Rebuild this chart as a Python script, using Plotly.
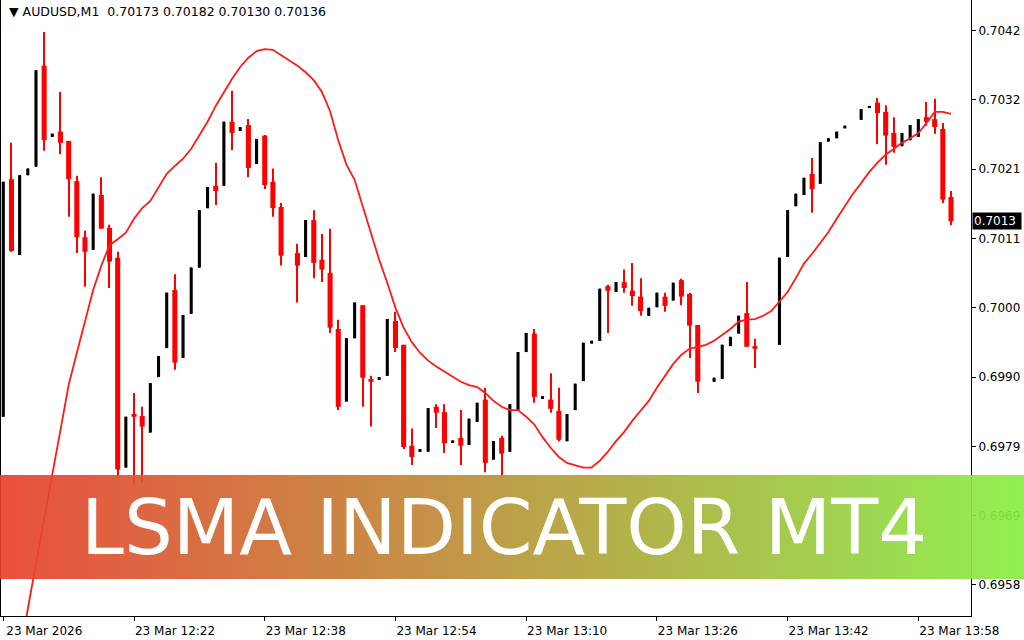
import plotly.graph_objects as go

# ---------------- data ----------------
symbol = "AUDUSD,M1"
x_tick_idx = [0, 16, 32, 48, 64, 80, 96, 112]
x_tick_text = ["23 Mar 2026", "23 Mar 12:22", "23 Mar 12:38", "23 Mar 12:54",
               "23 Mar 13:10", "23 Mar 13:26", "23 Mar 13:42", "23 Mar 13:58"]
y_tick_vals = [0.69585, 0.69690, 0.69795, 0.69900, 0.70005,
               0.70110, 0.70215, 0.70320, 0.70425]
y_tick_text = ["0.6958", "0.6969", "0.6979", "0.6990", "0.7000",
               "0.7011", "0.7021", "0.7032", "0.7042"]

opens = [0.69840, 0.70200, 0.70085, 0.70206, 0.70219, 0.70372, 0.70264, 0.70272, 0.70258, 0.70197,
         0.70112, 0.70093, 0.70176, 0.70126, 0.70081, 0.69763, 0.69843, 0.69841, 0.69816, 0.69900,
         0.69944, 0.70032, 0.69929, 0.69996, 0.70066, 0.70156, 0.70190, 0.70190, 0.70287, 0.70273,
         0.70282, 0.70223, 0.70266, 0.70196, 0.70158, None, 0.70088, 0.70082, 0.70138, 0.70078,
         0.70058, 0.69973, 0.69863, 0.69959, 0.70009, 0.69897, 0.69897, 0.69902, 0.69985, 0.69949,
         0.69796, 0.69788, 0.69787, 0.69855, 0.69847, 0.69801, 0.69808, 0.69797, 0.69832, 0.69866,
         0.69775, 0.69808, 0.69787, 0.69850, 0.69938, 0.69966, 0.69868, 0.69866, 0.69849, 0.69803,
         0.69850, 0.69894, 0.69951, 0.69955, 0.70038, 0.70029, 0.70044, 0.70031, 0.70022, 0.69993,
         0.70006, 0.70022, 0.70016, 0.70047, 0.70026, 0.69979, None, 0.69893, 0.69897, 0.69947,
         0.69966, 0.69997, 0.69947, None, None, 0.69949, 0.70082, 0.70159, 0.70176, 0.70208,
         0.70193, 0.70257, 0.70262, 0.70277, None, 0.70290, 0.70308, 0.70316, 0.70302, 0.70270,
         0.70250, 0.70259, 0.70264, 0.70294, 0.70291, 0.70276, 0.70173]

highs = [0.70196, 0.70255, 0.70206, 0.70216, 0.70365, 0.70423, 0.70269, 0.70332, 0.70258, 0.70205,
         0.70122, 0.70178, 0.70203, 0.70131, 0.70090, 0.69840, 0.69876, 0.69855, 0.69891, 0.69932,
         0.70028, 0.70056, 0.69994, 0.70066, 0.70153, 0.70188, 0.70225, 0.70287, 0.70334, 0.70279,
         0.70291, 0.70261, 0.70267, 0.70216, 0.70164, None, 0.70102, 0.70138, 0.70153, 0.70117,
         0.70125, 0.69987, 0.69959, 0.70013, 0.70009, 0.69902, 0.69900, 0.69988, 0.69999, 0.69949,
         0.69822, 0.69791, 0.69853, 0.69859, 0.69859, 0.69804, 0.69850, 0.69837, 0.69861, 0.69884,
         0.69803, 0.69811, 0.69859, 0.69938, 0.69967, 0.69973, 0.69871, 0.69906, 0.69884, 0.69844,
         0.69890, 0.69952, 0.69955, 0.70034, 0.70040, 0.70044, 0.70063, 0.70073, 0.70050, 0.70005,
         0.70028, 0.70028, 0.70043, 0.70049, 0.70028, 0.69979, None, 0.69899, 0.69949, 0.69961,
         0.69993, 0.70044, 0.69958, None, None, 0.70081, 0.70153, 0.70178, 0.70202, 0.70232,
         0.70256, 0.70262, 0.70272, 0.70281, None, 0.70306, 0.70311, 0.70323, 0.70312, 0.70294,
         0.70270, 0.70282, 0.70291, 0.70317, 0.70322, 0.70285, 0.70182]

lows = [0.69840, 0.70090, 0.70085, 0.70206, 0.70219, 0.70243, 0.70264, 0.70238, 0.70143, 0.70088,
        0.70037, 0.70093, 0.70125, 0.70035, 0.69747, 0.69763, 0.69737, 0.69741, 0.69816, 0.69900,
        0.69944, 0.69911, 0.69929, 0.69996, 0.70066, 0.70156, 0.70161, 0.70190, 0.70244, 0.70273,
        0.70203, 0.70223, 0.70185, 0.70143, 0.70069, None, 0.70013, 0.70082, 0.70050, 0.70044,
        0.69967, 0.69850, 0.69863, 0.69959, 0.69855, 0.69825, 0.69897, 0.69902, 0.69938, 0.69791,
        0.69767, 0.69788, 0.69787, 0.69823, 0.69785, 0.69801, 0.69767, 0.69797, 0.69832, 0.69756,
        0.69775, 0.69747, 0.69787, 0.69850, 0.69938, 0.69861, 0.69868, 0.69846, 0.69803, 0.69803,
        0.69850, 0.69894, 0.69951, 0.69955, 0.69967, 0.70029, 0.70028, 0.70008, 0.69993, 0.69993,
        0.70006, 0.69999, 0.70016, 0.70009, 0.69929, 0.69876, None, 0.69893, 0.69897, 0.69947,
        0.69966, 0.69946, 0.69914, None, None, 0.69949, 0.70082, 0.70159, 0.70176, 0.70149,
        0.70193, 0.70257, 0.70262, 0.70277, None, 0.70290, 0.70308, 0.70253, 0.70222, 0.70240,
        0.70250, 0.70259, 0.70264, 0.70281, 0.70269, 0.70164, 0.70130]

closes = [0.70196, 0.70091, 0.70206, 0.70216, 0.70365, 0.70259, 0.70269, 0.70255, 0.70200, 0.70112,
          0.70090, 0.70178, 0.70125, 0.70075, 0.69760, 0.69840, 0.69840, 0.69825, 0.69891, 0.69932,
          0.70028, 0.69922, 0.69994, 0.70066, 0.70153, 0.70188, 0.70182, 0.70287, 0.70270, 0.70279,
          0.70217, 0.70261, 0.70191, 0.70156, 0.70084, None, 0.70069, 0.70138, 0.70073, 0.70063,
          0.69975, 0.69855, 0.69959, 0.70013, 0.69899, 0.69893, 0.69900, 0.69988, 0.69944, 0.69794,
          0.69779, 0.69791, 0.69853, 0.69846, 0.69800, 0.69804, 0.69796, 0.69837, 0.69861, 0.69770,
          0.69803, 0.69784, 0.69859, 0.69938, 0.69967, 0.69870, 0.69871, 0.69852, 0.69805, 0.69844,
          0.69890, 0.69952, 0.69955, 0.70034, 0.70031, 0.70044, 0.70035, 0.70023, 0.70000, 0.70005,
          0.70028, 0.70008, 0.70043, 0.70022, 0.69978, 0.69893, None, 0.69899, 0.69949, 0.69961,
          0.69993, 0.69946, 0.69943, None, None, 0.70081, 0.70153, 0.70178, 0.70202, 0.70185,
          0.70256, 0.70262, 0.70272, 0.70281, None, 0.70306, 0.70311, 0.70300, 0.70266, 0.70249,
          0.70270, 0.70282, 0.70291, 0.70287, 0.70279, 0.70169, 0.70136]

lsma_start = 2
lsma = [0.69470, 0.69549, 0.69617, 0.69687, 0.69753, 0.69820, 0.69888, 0.69937, 0.69985, 0.70032,
        0.70069, 0.70100, 0.70109, 0.70119, 0.70140, 0.70156, 0.70167, 0.70187, 0.70208, 0.70220,
        0.70231, 0.70246, 0.70267, 0.70287, 0.70311, 0.70332, 0.70352, 0.70370, 0.70384, 0.70394,
        0.70397, 0.70396, 0.70388, 0.70379, 0.70372, 0.70362, 0.70350, 0.70332, 0.70303, 0.70259,
        0.70222, 0.70199, 0.70158, 0.70120, 0.70078, 0.70043, 0.70005, 0.69975, 0.69953, 0.69937,
        0.69925, 0.69916, 0.69908, 0.69900, 0.69893, 0.69888, 0.69885, 0.69876, 0.69864, 0.69855,
        0.69850, 0.69850, 0.69840, 0.69828, 0.69809, 0.69793, 0.69779, 0.69770, 0.69766, 0.69763,
        0.69763, 0.69773, 0.69787, 0.69803, 0.69817, 0.69834, 0.69849, 0.69864, 0.69884, 0.69903,
        0.69920, 0.69934, 0.69943, 0.69946, 0.69949, 0.69955, 0.69964, 0.69973, 0.69984, 0.69987,
        0.69988, 0.69993, 0.70000, 0.70014, 0.70029, 0.70050, 0.70072, 0.70087, 0.70103, 0.70120,
        0.70140, 0.70159, 0.70178, 0.70194, 0.70211, 0.70225, 0.70237, 0.70246, 0.70255, 0.70262,
        0.70270, 0.70285, 0.70302, 0.70302, 0.70299]

banner_text = "LSMA INDICATOR MT4"

# ---------------- figure ----------------
RED = "#ff0000"
BLACK = "#000000"
n = len(opens)
valid = [i for i in range(n) if opens[i] is not None]
bull = [i for i in valid if closes[i] > opens[i]]
bear = [i for i in valid if closes[i] <= opens[i]]


def bar_trace(ids, lo, hi, width, colour):
    return go.Bar(
        x=ids,
        base=[lo[i] for i in ids],
        y=[hi[i] - lo[i] for i in ids],
        width=width,
        marker=dict(color=colour, line=dict(width=0)),
        hoverinfo="skip",
    )


fig = go.Figure()
fig.add_trace(bar_trace(bear, lows, highs, 0.13, RED))
fig.add_trace(bar_trace(bear, opens, closes, 0.62, RED))
fig.add_trace(bar_trace(bull, lows, highs, 0.13, BLACK))
fig.add_trace(bar_trace(bull, opens, closes, 0.38, BLACK))
fig.add_trace(go.Scatter(
    x=list(range(lsma_start, lsma_start + len(lsma))), y=lsma,
    mode="lines", line=dict(color="#ff1a1a", width=1.8), hoverinfo="skip",
))

W, H = 1024, 640
px_per_bar = 8.17
x0_px = 3.3
plot_left, plot_right, plot_bottom = 1, 971, 616

font_axis = dict(family="DejaVu Sans", size=12, color="black")

fig.update_layout(
    width=W, height=H, autosize=False,
    margin=dict(l=0, r=0, t=0, b=0, pad=0, autoexpand=False),
    paper_bgcolor="white", plot_bgcolor="white",
    showlegend=False, barmode="overlay",
    xaxis=dict(
        domain=[plot_left / W, plot_right / W],
        range=[(plot_left - x0_px) / px_per_bar, (plot_right - x0_px) / px_per_bar],
        tickmode="array", tickvals=x_tick_idx, ticktext=x_tick_text,
        ticks="outside", ticklen=4, tickcolor="black", tickwidth=1,
        ticklabelshift=41, automargin=False,
        showline=True, linecolor="black", linewidth=1,
        showgrid=False, zeroline=False, tickfont=font_axis,
    ),
    yaxis=dict(
        domain=[1 - plot_bottom / H, 1],
        range=[0.69538, 0.704715],
        side="right", mirror=True, automargin=False,
        tickmode="array", tickvals=y_tick_vals, ticktext=y_tick_text,
        ticks="outside", ticklen=4, tickcolor="black", tickwidth=1,
        showline=True, linecolor="black", linewidth=1,
        showgrid=False, zeroline=False, tickfont=font_axis,
    ),
)

# gradient banner (semi-transparent strips)
c_left = (232, 64, 46)
c_right = (136, 238, 68)
n_strips = 128
banner_top, banner_bottom = 475, 579
shapes = []
for k in range(n_strips):
    t = (k + 0.5) / n_strips
    col = tuple(round(a + (b - a) * t) for a, b in zip(c_left, c_right))
    shapes.append(dict(
        type="rect", xref="paper", yref="paper",
        x0=k / n_strips, x1=(k + 1) / n_strips,
        y0=1 - banner_bottom / H, y1=1 - banner_top / H,
        fillcolor="rgb(%d,%d,%d)" % col, line=dict(width=0),
        opacity=0.92, layer="above",
    ))
fig.update_layout(shapes=shapes)

nb = "\u00a0"
title = f"▼ {symbol}{nb}{nb}{opens[-1]:.5f} {highs[-1]:.5f} {lows[-1]:.5f} {closes[-1]:.5f}"
fig.add_annotation(
    x=7 / W, y=1 - 2 / H, xref="paper", yref="paper", xanchor="left", yanchor="top",
    text=title, showarrow=False, font=dict(family="DejaVu Sans", size=12.5, color="black"),
)
last_label = f"{closes[-1]:.5f}"[:6]
fig.add_annotation(
    x=972 / W, y=closes[-1], xref="paper", yref="y", xanchor="left", yanchor="middle",
    text=last_label + nb, showarrow=False, bgcolor="black", borderpad=1,
    font=dict(family="DejaVu Sans", size=12, color="white"),
)
fig.add_annotation(
    x=504 / W, y=1 - 527 / H, xref="paper", yref="paper", xanchor="center", yanchor="middle",
    text=banner_text, showarrow=False,
    font=dict(family="DejaVu Sans", size=77, color="white"),
)

fig.write_html(
    "out.html",
    config={"responsive": False, "displayModeBar": False},
    post_script="document.body.style.margin='0';document.body.style.overflow='hidden';",
)
